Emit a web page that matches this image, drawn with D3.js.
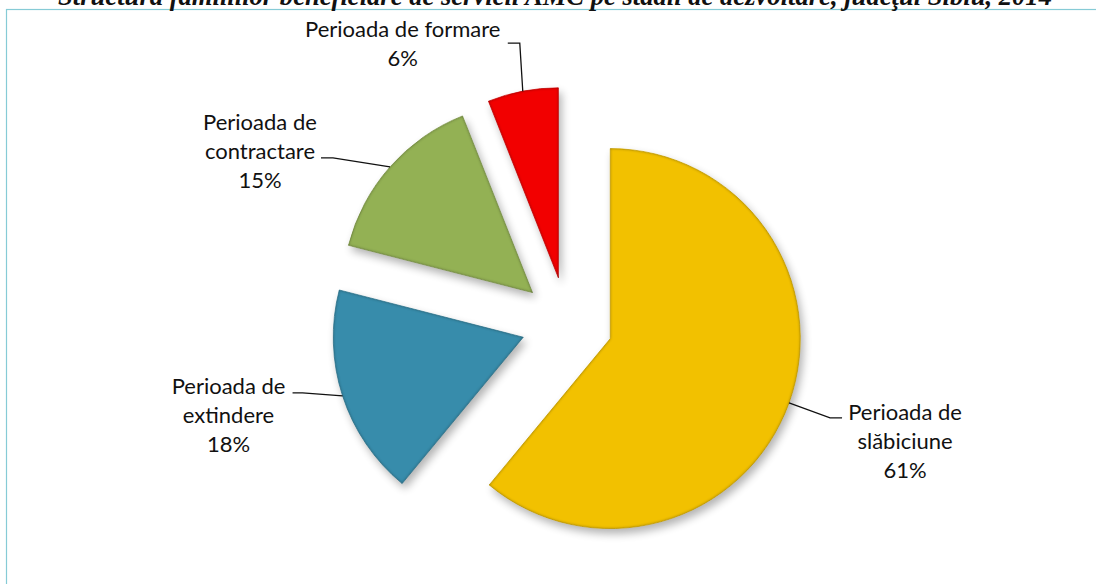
<!DOCTYPE html>
<html>
<head>
<meta charset="utf-8">
<script src="https://cdn.jsdelivr.net/npm/d3@7"></script>
<style>
  html, body { margin: 0; padding: 0; background: #fff; }
  svg { display: block; }
  .lbl { font-family: Lato, "Open Sans", sans-serif; font-size: 22px; fill: #111; }
  .title { font-family: "Liberation Serif", "DejaVu Serif", serif; font-weight: bold; font-style: italic; fill: #111; }
</style>
</head>
<body>
<div id="chart"></div>
<script>
const TITLE = "Structura familiilor beneficiare de servicii AMC pe stadii de dezvoltare, judeţul Sibiu, 2014";

// slices in drawing order, clockwise from 12 o'clock
const stageNames = [
  ["Perioada de", "slăbiciune"],
  ["Perioada de", "extindere"],
  ["Perioada de", "contractare"],
  ["Perioada de formare"]
];
const stageShares = [61, 18, 15, 6];
const stageColors = ["#ffcc00", "#3a94b4", "#9bbb59", "#ff0000"];

// hand-placed label layout, relative to the slice's arc midpoint
const labelLayout = [
  { elbow: [41, 15], tail: [53, 15], text: [116, 17] },
  { elbow: [-40, -3], tail: [-50, -3], text: [-114, -2] },
  { elbow: [-57, -9], tail: [-69, -9], text: [-130, -37] },
  { elbow: [-3, -48], tail: [-15, -48], text: [-120, -54] }
];

const width = 1096;
const height = 584;
const cx = 567;
const cy = 323;
const radius = 190;
const explode = 46;
const lineGap = 29;

const svg = d3.select("#chart").append("svg")
  .attr("width", width)
  .attr("height", height);

const defs = svg.append("defs");
const filter = defs.append("filter")
  .attr("id", "bevel")
  .attr("color-interpolation-filters", "sRGB")
  .attr("x", "-20%").attr("y", "-20%")
  .attr("width", "140%").attr("height", "140%");
filter.append("feGaussianBlur").attr("in", "SourceAlpha").attr("stdDeviation", 4).attr("result", "sb");
filter.append("feOffset").attr("in", "sb").attr("dx", 3).attr("dy", 5).attr("result", "so");
filter.append("feComponentTransfer").attr("in", "so").attr("result", "shadow")
  .append("feFuncA").attr("type", "linear").attr("slope", 0.3);
filter.append("feGaussianBlur").attr("in", "SourceAlpha").attr("stdDeviation", 1.6).attr("result", "ib");
filter.append("feComposite").attr("in", "SourceAlpha").attr("in2", "ib")
  .attr("operator", "arithmetic").attr("k2", 1).attr("k3", -1).attr("result", "rim");
filter.append("feFlood").attr("flood-color", "#000").attr("flood-opacity", 0.4).attr("result", "fl");
filter.append("feComposite").attr("in", "fl").attr("in2", "rim").attr("operator", "in").attr("result", "rimDark");
const merge = filter.append("feMerge");
merge.append("feMergeNode").attr("in", "shadow");
merge.append("feMergeNode").attr("in", "SourceGraphic");
merge.append("feMergeNode").attr("in", "rimDark");

// chart area frame (runs off the right and bottom of the picture)
svg.append("rect")
  .attr("x", 6.5).attr("y", 9.5)
  .attr("width", 1200).attr("height", 700)
  .attr("fill", "none")
  .attr("stroke", "#86cbd6")
  .attr("stroke-width", 1.2);

// title, clipped by the top of the picture as in the source
const title = svg.append("text")
  .attr("class", "title")
  .attr("x", 555).attr("y", 5)
  .attr("text-anchor", "middle")
  .style("font-size", "20px")
  .text(TITLE);
const tw = title.node().getComputedTextLength();
title.style("font-size", `${(20 * 994 / tw).toFixed(2)}px`);

const pie = d3.pie().sort(null).value((d) => d).startAngle(0).endAngle(2 * Math.PI);
const arcs = pie(stageShares);
const arc = d3.arc().innerRadius(0).outerRadius(radius);

const slices = arcs.map((a, i) => {
  const mid = (a.startAngle + a.endAngle) / 2;
  const ox = cx + explode * Math.sin(mid);
  const oy = cy - explode * Math.cos(mid);
  return {
    arc: a,
    ox,
    oy,
    px: ox + radius * Math.sin(mid),
    py: oy - radius * Math.cos(mid),
    name: stageNames[i],
    value: stageShares[i],
    color: stageColors[i],
    layout: labelLayout[i]
  };
});

const gradient = defs.selectAll("radialGradient")
  .data(slices)
  .join("radialGradient")
  .attr("id", (d, i) => `g${i}`)
  .attr("gradientUnits", "userSpaceOnUse")
  .attr("cx", (d) => d.ox).attr("cy", (d) => d.oy)
  .attr("r", radius);
gradient.append("stop").attr("offset", "0%").attr("stop-color", (d) => d3.color(d.color).brighter(0.1));
gradient.append("stop").attr("offset", "90%").attr("stop-color", (d) => d.color);
gradient.append("stop").attr("offset", "100%").attr("stop-color", (d) => d3.color(d.color).darker(0.15));

svg.append("g")
  .selectAll("path")
  .data(slices)
  .join("path")
  .attr("transform", (d) => `translate(${d.ox},${d.oy})`)
  .attr("d", (d) => arc(d.arc))
  .attr("fill", (d, i) => `url(#g${i})`)
  .attr("stroke", (d) => d3.color(d.color).darker(0.5))
  .attr("stroke-width", 0.7)
  .attr("filter", "url(#bevel)");

svg.append("g")
  .selectAll("path")
  .data(slices)
  .join("path")
  .attr("fill", "none")
  .attr("stroke", "#111")
  .attr("stroke-width", 1.3)
  .attr("d", (d) => {
    const l = d.layout;
    return `M ${d.px},${d.py} L ${d.px + l.elbow[0]},${d.py + l.elbow[1]} L ${d.px + l.tail[0]},${d.py + l.tail[1]}`;
  });

const labels = svg.append("g")
  .selectAll("text")
  .data(slices)
  .join("text")
  .attr("class", "lbl")
  .attr("text-anchor", "middle")
  .attr("x", (d) => d.px + d.layout.text[0])
  .attr("y", (d) => d.py + d.layout.text[1]);

labels.each(function eachLabel(d) {
  const lines = [...d.name, `${d.value}%`];
  d3.select(this)
    .selectAll("tspan")
    .data(lines)
    .join("tspan")
    .attr("x", d.px + d.layout.text[0])
    .attr("dy", (t, j) => (j === 0 ? 0 : lineGap))
    .text((t) => t);
});
</script>
</body>
</html>
